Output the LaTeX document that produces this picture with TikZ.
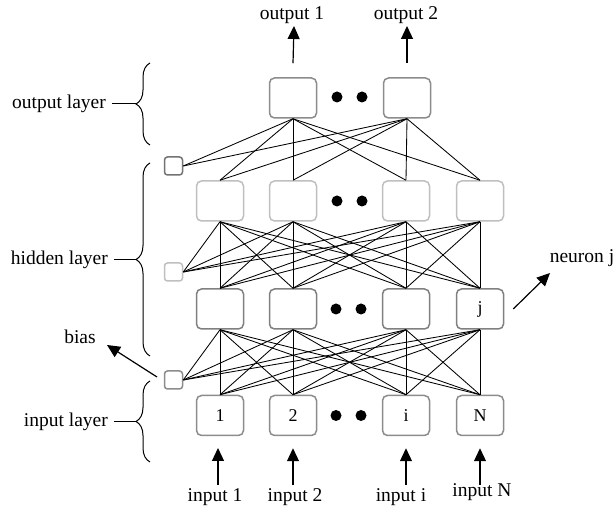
\documentclass[tikz,border=0pt]{standalone}
\usepackage{fontspec}
\setmainfont{Liberation Serif}
\usetikzlibrary{arrows.meta, decorations.pathreplacing}

\begin{document}
\begin{tikzpicture}[x=1pt, y=1pt,
  neuron/.style={draw, rounded corners=5pt, line width=1.5pt, fill=white,
                 minimum width=47pt, minimum height=40pt, inner sep=0pt,
                 font=\fontsize{18}{20}\selectfont},
  biasbox/.style={draw, rounded corners=3pt, line width=1.5pt, fill=white,
                  minimum size=18pt, inner sep=0pt},
  conn/.style={line width=0.85pt},
  dot/.style={circle, fill=black, inner sep=0pt, minimum size=11pt},
  lab/.style={font=\fontsize{19.5}{22}\selectfont, inner sep=0pt},
  arr/.style={-{Triangle[length=13pt, width=12pt]}, line width=1.2pt},
  brc/.style={decorate, decoration={brace, amplitude=14pt}, line width=1pt}
]
  \useasboundingbox (0,0) rectangle (616,513);

  % input layer
  \node[neuron, draw=black!45] (in1) at (220,97.5) {1};
  \node[neuron, draw=black!45] (in2) at (293,97.5) {2};
  \node[neuron, draw=black!45] (in3) at (406,97.5) {i};
  \node[neuron, draw=black!45] (in4) at (480,97.5) {N};
  \node[dot] (di1) at (336,97.5) {};
  \node[dot] (di2) at (361,97.5) {};

  % hidden layers
  \node[neuron, draw=black!50] (hA1) at (220,204) {};
  \node[neuron, draw=black!50] (hA2) at (293,204) {};
  \node[neuron, draw=black!50] (hA3) at (406,204) {};
  \node[neuron, draw=black!50] (hA4) at (480,204) {j};
  \node[dot] (da1) at (336,204) {};
  \node[dot] (da2) at (361,204) {};

  \node[neuron, draw=black!25] (hB1) at (220,312) {};
  \node[neuron, draw=black!25] (hB2) at (293,312) {};
  \node[neuron, draw=black!25] (hB3) at (406,312) {};
  \node[neuron, draw=black!25] (hB4) at (480,312) {};
  \node[dot] (db1) at (337,312) {};
  \node[dot] (db2) at (362,312) {};

  % output layer
  \node[neuron, draw=black!45] (out1) at (293,415) {};
  \node[neuron, draw=black!45] (out2) at (407,415) {};
  \node[dot] (do1) at (337,416) {};
  \node[dot] (do2) at (362,416) {};

  % bias units
  \node[biasbox, draw=black!45] (bin)  at (173.5,133) {};
  \node[biasbox, draw=black!25] (bhid) at (173.5,241) {};
  \node[biasbox, draw=black!55] (bout) at (173.5,347) {};

  % weights
  \foreach \i in {1,...,4} \foreach \j in {1,...,4}
    \draw[conn] (in\i.north) -- (hA\j.south);
  \foreach \j in {1,...,4} \draw[conn] (bin.east) -- (hA\j.south);
  \foreach \i in {1,...,4} \foreach \j in {1,...,4}
    \draw[conn] (hA\i.north) -- (hB\j.south);
  \foreach \j in {1,...,4} \draw[conn] (bhid.east) -- (hB\j.south);
  \foreach \i in {1,...,4} \foreach \j in {1,2}
    \draw[conn] (hB\i.north) -- (out\j.south);
  \foreach \j in {1,2} \draw[conn] (bout.east) -- (out\j.south);

  % inputs / outputs
  \node[lab] (x1) at (215,16) {input 1};
  \node[lab] (x2) at (295,16) {input 2};
  \node[lab] (x3) at (401,16) {input i};
  \node[lab] (x4) at (482,21) {input N};
  \coordinate (t1) at (218,28);
  \coordinate (t2) at (293,28);
  \coordinate (t3) at (406,28);
  \coordinate (t4) at (480,28);
  \draw[arr] (t1) -- (218,65);
  \draw[arr] (t2) -- ([yshift=-12pt]in2.south);
  \draw[arr] (t3) -- ([yshift=-12pt]in3.south);
  \draw[arr] (t4) -- ([yshift=-12pt]in4.south);

  \node[lab] (y1) at (292,498) {output 1};
  \node[lab] (y2) at (406,498) {output 2};
  \coordinate (h1) at (294,487);
  \coordinate (h2) at (407,487);
  \draw[arr] ([yshift=14pt]out1.north) -- (h1);
  \draw[arr] ([yshift=14pt]out2.north) -- (h2);

  % braces
  \draw[brc] (150,368) -- (150,450) coordinate[midway, xshift=-14pt] (bo);
  \draw[brc] (150,157) -- (150,350) coordinate[midway, xshift=-14pt] (bh);
  \draw[brc] (150,51)  -- (150,132) coordinate[midway, xshift=-14pt] (bi);
  \node[lab, anchor=east] (lo) at (106,409) {output layer};
  \node[lab, anchor=east] (lh) at (108,253.5) {hidden layer};
  \node[lab, anchor=east] (li) at (108,91.5) {input layer};
  \draw[line width=1pt] ([xshift=6pt]lo.east) -- (bo);
  \draw[line width=1pt] ([xshift=6pt]lh.east) -- (bh);
  \draw[line width=1pt] ([xshift=6pt]li.east) -- (bi);

  % annotations
  \node[lab] (blab) at (80,176) {bias};
  \coordinate (bs) at (157,136);
  \coordinate (bt) at (107,168);
  \draw[arr] (bs) -- (bt);
  \node[lab] (nlab) at (582,255) {neuron j};
  \coordinate (nt) at (550,240);
  \draw[arr] ([xshift=9pt]hA4.east) -- (nt);
\end{tikzpicture}
\end{document}
